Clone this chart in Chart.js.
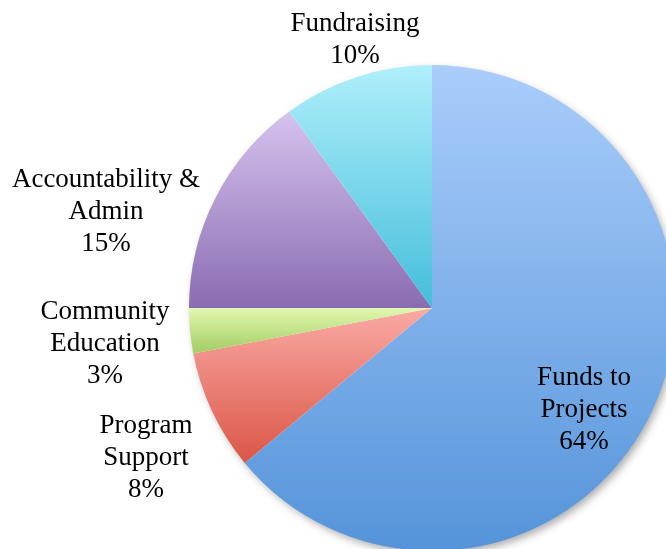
<!DOCTYPE html>
<html lang="en">
<head>
    <meta charset="UTF-8">
    <title>Funds Allocation</title>
    <script src="https://cdn.jsdelivr.net/npm/chart.js"></script>
    <style>
        html, body { margin: 0; padding: 0; width: 666px; height: 549px; overflow: hidden; background: #fff; }
        #wrap { position: absolute; left: 0; top: 0; width: 864px; height: 616px; }
    </style>
</head>
<body>
    <div id="wrap">
        <canvas id="pieChart" width="864" height="616"></canvas>
    </div>

    <script>
        // chart data
        const categories = ['Funds to Projects', 'Program Support', 'Community Education', 'Accountability & Admin', 'Fundraising'];
        const shares = [64, 8, 3, 15, 10];
        const labelLines = [
            ['Funds to', 'Projects', '64%'],
            ['Program', 'Support', '8%'],
            ['Community', 'Education', '3%'],
            ['Accountability &', 'Admin', '15%'],
            ['Fundraising', '10%']
        ];

        // gradient colours, light at top, darker at bottom
        const topColors = ['#aacdfb', '#faaaa5', '#e2f7b0', '#d6c3ef', '#b0effb'];
        const bottomColors = ['#5594da', '#da5646', '#a2cd62', '#8a6cb2', '#44bedb'];

        // label centres (px, page coords)
        const labelPos = [
            { x: 584, y: 410 },
            { x: 146, y: 458 },
            { x: 105, y: 344 },
            { x: 106, y: 212 },
            { x: 355, y: 40 }
        ];

        function arcBox(cx, cy, r, a0, a1) {
            let ys = [cy, cy + r * Math.sin(a0), cy + r * Math.sin(a1)];
            for (let k = -4; k <= 4; k++) {
                const a = k * Math.PI / 2;
                if (a > a0 && a < a1) ys.push(cy + r * Math.sin(a));
            }
            return { top: Math.min(...ys), bottom: Math.max(...ys) };
        }

        function sliceFill(context) {
            const chart = context.chart;
            const area = chart.chartArea;
            const i = context.dataIndex;
            if (!area) return topColors[i];
            const cx = (area.left + area.right) / 2;
            const cy = (area.top + area.bottom) / 2;
            const r = Math.min(area.right - area.left, area.bottom - area.top) / 2;
            const total = shares.reduce((a, b) => a + b, 0);
            let before = 0;
            for (let j = 0; j < i; j++) before += shares[j];
            const a0 = -Math.PI / 2 + before / total * Math.PI * 2;
            const a1 = a0 + shares[i] / total * Math.PI * 2;
            const box = arcBox(cx, cy, r, a0, a1);
            const g = chart.ctx.createLinearGradient(0, box.top, 0, box.bottom);
            g.addColorStop(0, topColors[i]);
            g.addColorStop(1, bottomColors[i]);
            return g;
        }

        const shadowPlugin = {
            id: 'pieShadow',
            beforeDatasetsDraw(chart) {
                const area = chart.chartArea;
                const ctx = chart.ctx;
                const cx = (area.left + area.right) / 2;
                const cy = (area.top + area.bottom) / 2;
                const r = Math.min(area.right - area.left, area.bottom - area.top) / 2;
                ctx.save();
                ctx.shadowColor = 'rgba(0,0,0,0.35)';
                ctx.shadowBlur = 8;
                ctx.shadowOffsetX = 3;
                ctx.shadowOffsetY = 4;
                ctx.fillStyle = '#ffffff';
                ctx.beginPath();
                ctx.arc(cx, cy, r - 1, 0, Math.PI * 2);
                ctx.fill();
                ctx.restore();
            }
        };

        const labelPlugin = {
            id: 'sliceLabels',
            afterDatasetsDraw(chart) {
                const ctx = chart.ctx;
                ctx.save();
                ctx.font = '27px "Liberation Serif"';
                ctx.fillStyle = '#000';
                ctx.textAlign = 'center';
                ctx.textBaseline = 'middle';
                const lh = 32;
                labelLines.forEach((lines, i) => {
                    const p = labelPos[i];
                    const y0 = p.y - (lines.length - 1) * lh / 2;
                    lines.forEach((t, k) => ctx.fillText(t, p.x, y0 + k * lh));
                });
                ctx.restore();
            }
        };

        new Chart(document.getElementById('pieChart').getContext('2d'), {
            type: 'pie',
            data: {
                labels: categories,
                datasets: [{
                    data: shares,
                    backgroundColor: sliceFill,
                    borderWidth: 0
                }]
            },
            options: {
                responsive: false,
                animation: false,
                events: [],
                layout: { padding: { left: 189, right: 189, top: 65, bottom: 65 } },
                plugins: {
                    legend: { display: false },
                    tooltip: { enabled: false }
                }
            },
            plugins: [shadowPlugin, labelPlugin]
        });
    </script>
</body>
</html>
